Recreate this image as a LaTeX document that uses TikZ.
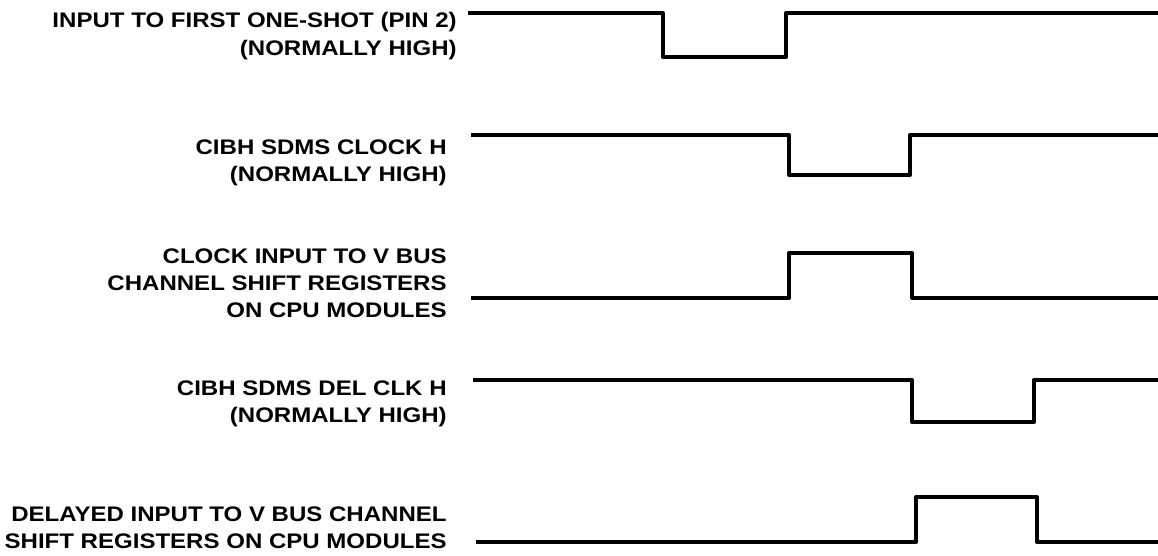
\documentclass[tikz,border=0pt]{standalone}
\usepackage{fontspec}
\setmainfont{Liberation Sans}[FakeStretch=1.14]
\begin{document}
\begin{tikzpicture}[x=0.02cm, y=-0.02cm,
    lbl/.style={anchor=east, align=right, inner sep=0pt,
                font=\fontsize{12}{15.5}\selectfont\bfseries},
    wave/.style={line width=2.3pt, line join=round}
]
\useasboundingbox (0,0) rectangle (1158,555);

\node[lbl] (pin)  at (457,36)  {INPUT TO FIRST ONE-SHOT (PIN 2)\\(NORMALLY HIGH)};
\node[lbl] (clk)  at (447,163) {CIBH SDMS CLOCK H\\(NORMALLY HIGH)};
\node[lbl] (vclk) at (447,283) {CLOCK INPUT TO V BUS\\CHANNEL SHIFT REGISTERS\\ON CPU MODULES};
\node[lbl] (del)  at (447,404) {CIBH SDMS DEL CLK H\\(NORMALLY HIGH)};
\node[lbl] (vdel) at (447,528) {DELAYED INPUT TO V BUS CHANNEL\\SHIFT REGISTERS ON CPU MODULES};

\draw[wave] (468,13) -- (663,13) -- (663,57) -- (786,57) -- (786,13) -- (1158,13);
\draw[wave] (471,135) -- (789,135) -- (789,175) -- (910,175) -- (910,135) -- (1158,135);
\draw[wave] (471,298) -- (789,298) -- (789,253) -- (912,253) -- (912,298) -- (1158,298);
\draw[wave] (473,380) -- (912,380) -- (912,422) -- (1034,422) -- (1034,380) -- (1158,380);
\draw[wave] (476,542) -- (916,542) -- (916,497) -- (1037,497) -- (1037,542) -- (1158,542);

\end{tikzpicture}
\end{document}
